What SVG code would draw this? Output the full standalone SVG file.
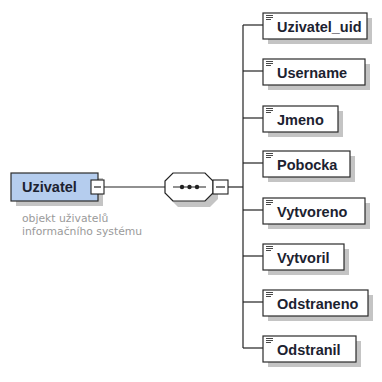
<svg xmlns="http://www.w3.org/2000/svg" width="382" height="382" viewBox="0 0 382 382">
  <style>
    .shadow { fill: #c4c4c4; }
    .box { fill: #ffffff; stroke: #2b2b2b; stroke-width: 1.2; }
    .root { fill: #b5cdee; stroke: #2b2b2b; stroke-width: 1.2; }
    .label { font-family: "Liberation Sans", Arial, sans-serif; font-weight: bold; font-size: 14.5px; fill: #1c2230; }
    .note { font-family: "DejaVu Sans", Tahoma, sans-serif; font-size: 10.8px; fill: #9a9a9a; }
    .wire { fill: none; stroke: #222222; stroke-width: 1.2; }
    .icon { stroke: #333333; stroke-width: 0.9; }
    .toggle { fill: #ffffff; stroke: #222222; stroke-width: 1.1; }
  </style>
  <defs>
    <!-- small "simple content" glyph in the top-left corner of each element -->
    <g id="lines">
      <line class="icon" x1="0" y1="0.5" x2="7" y2="0.5"/>
      <line class="icon" x1="0" y1="2.5" x2="7" y2="2.5"/>
      <line class="icon" x1="0" y1="4.5" x2="5" y2="4.5"/>
    </g>
  </defs>

  <rect width="382" height="382" fill="#ffffff"/>

  <!-- connectors -->
  <g id="connectors">
    <line class="wire" x1="104" y1="187" x2="165" y2="187"/>
    <line class="wire" x1="228" y1="187" x2="243" y2="187"/>
    <line class="wire" x1="243" y1="25" x2="243" y2="348"/>
    <line class="wire" x1="243" y1="25" x2="263" y2="25"/>
    <line class="wire" x1="243" y1="71" x2="263" y2="71"/>
    <line class="wire" x1="243" y1="118" x2="263" y2="118"/>
    <line class="wire" x1="243" y1="163" x2="263" y2="163"/>
    <line class="wire" x1="243" y1="210" x2="263" y2="210"/>
    <line class="wire" x1="243" y1="256" x2="263" y2="256"/>
    <line class="wire" x1="243" y1="302" x2="263" y2="302"/>
    <line class="wire" x1="243" y1="348" x2="263" y2="348"/>
  </g>

  <!-- root element -->
  <g id="uzivatel">
    <rect class="shadow" x="16" y="178" width="87" height="28"/>
    <rect class="root" x="11" y="173" width="87" height="28"/>
    <text class="label" x="22" y="192">Uzivatel</text>
    <rect class="toggle" x="91" y="180" width="13" height="14"/>
    <line class="wire" x1="94" y1="187" x2="101" y2="187"/>
    <text class="note" x="22" y="222">objekt uživatelů</text>
    <text class="note" x="22" y="235">informačního systému</text>
  </g>

  <!-- sequence compositor -->
  <g id="sequence">
    <polygon class="shadow" points="178,178 210,178 218,186 218,199 210,207 178,207 170,199 170,186"/>
    <polygon fill="#ffffff" stroke="#222222" stroke-width="1.2" points="173,173 205,173 213,181 213,193 205,201 173,201 165,193 165,181"/>
    <line class="wire" x1="173" y1="187" x2="206" y2="187"/>
    <circle cx="182" cy="187" r="2.2" fill="#222222"/>
    <circle cx="189.5" cy="187" r="2.2" fill="#222222"/>
    <circle cx="197" cy="187" r="2.2" fill="#222222"/>
    <rect class="toggle" x="213" y="180" width="15" height="14"/>
    <line class="wire" x1="216" y1="187" x2="225" y2="187"/>
  </g>

  <!-- child elements -->
  <g id="uzivatel_uid">
    <rect class="shadow" x="268" y="18" width="104" height="26"/>
    <rect class="box" x="263" y="13" width="104" height="26"/>
    <use href="#lines" x="266" y="15"/>
    <text class="label" x="277" y="32">Uzivatel_uid</text>
  </g>
  <g id="username">
    <rect class="shadow" x="268" y="64" width="102" height="26"/>
    <rect class="box" x="263" y="59" width="102" height="26"/>
    <use href="#lines" x="266" y="61"/>
    <text class="label" x="277" y="78">Username</text>
  </g>
  <g id="jmeno">
    <rect class="shadow" x="268" y="111" width="75" height="26"/>
    <rect class="box" x="263" y="106" width="75" height="26"/>
    <use href="#lines" x="266" y="108"/>
    <text class="label" x="277" y="125">Jmeno</text>
  </g>
  <g id="pobocka">
    <rect class="shadow" x="268" y="156" width="87" height="26"/>
    <rect class="box" x="263" y="151" width="87" height="26"/>
    <use href="#lines" x="266" y="153"/>
    <text class="label" x="277" y="170">Pobocka</text>
  </g>
  <g id="vytvoreno">
    <rect class="shadow" x="268" y="203" width="102" height="26"/>
    <rect class="box" x="263" y="198" width="102" height="26"/>
    <use href="#lines" x="266" y="200"/>
    <text class="label" x="277" y="217">Vytvoreno</text>
  </g>
  <g id="vytvoril">
    <rect class="shadow" x="268" y="249" width="81" height="26"/>
    <rect class="box" x="263" y="244" width="81" height="26"/>
    <use href="#lines" x="266" y="246"/>
    <text class="label" x="277" y="263">Vytvoril</text>
  </g>
  <g id="odstraneno">
    <rect class="shadow" x="268" y="295" width="105" height="26"/>
    <rect class="box" x="263" y="290" width="105" height="26"/>
    <use href="#lines" x="266" y="292"/>
    <text class="label" x="277" y="309">Odstraneno</text>
  </g>
  <g id="odstranil">
    <rect class="shadow" x="268" y="341" width="93" height="26"/>
    <rect class="box" x="263" y="336" width="93" height="26"/>
    <use href="#lines" x="266" y="338"/>
    <text class="label" x="277" y="355">Odstranil</text>
  </g>
</svg>
